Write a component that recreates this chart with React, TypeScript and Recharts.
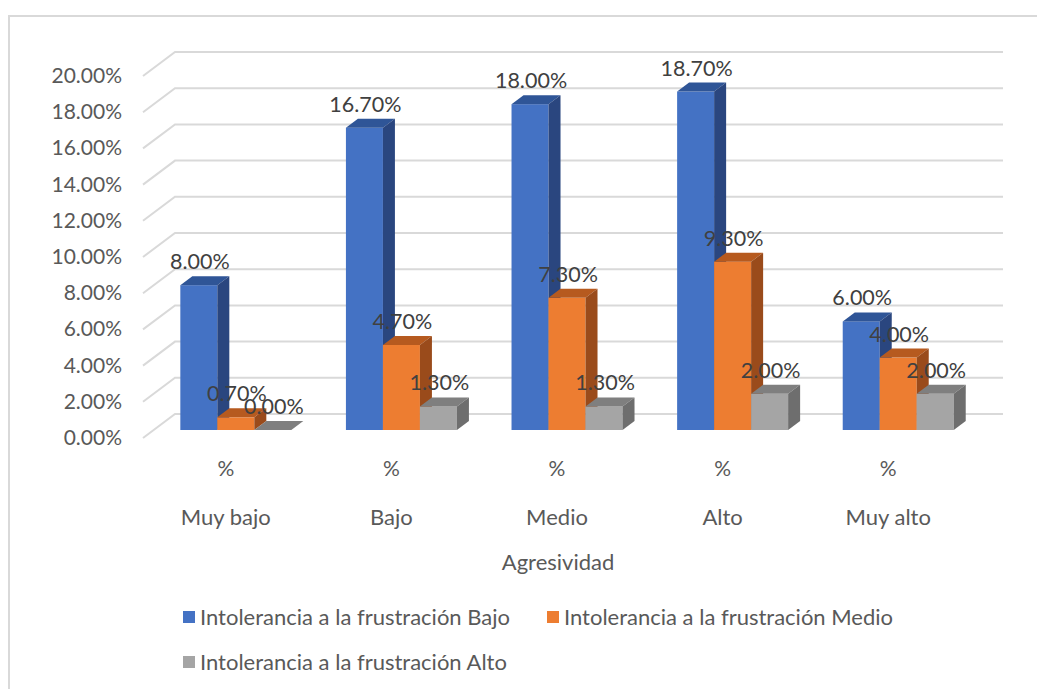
import React from "react";
import {
  BarChart,
  Bar,
  XAxis,
  YAxis,
  CartesianGrid,
  Legend,
  LabelList,
} from "recharts";

const categories = ["Muy bajo", "Bajo", "Medio", "Alto", "Muy alto"];
const unitLabel = "%";
const serieBajo = [8.0, 16.7, 18.0, 18.7, 6.0];
const serieMedio = [0.7, 4.7, 7.3, 9.3, 4.0];
const serieAlto = [0.0, 1.3, 1.3, 2.0, 2.0];
const yTicks = [0, 2, 4, 6, 8, 10, 12, 14, 16, 18, 20];
const seriesNames = [
  "Intolerancia a la frustración Bajo",
  "Intolerancia a la frustración Medio",
  "Intolerancia a la frustración Alto",
];

const data = categories.map((c, i) => ({
  cat: c,
  bajo: serieBajo[i],
  medio: serieMedio[i],
  alto: serieAlto[i],
}));

const FONT = "Lato, 'Open Sans', sans-serif";
const TXT = "#595959";

// colores: frente, tapa, lado
const palette = {
  bajo: ["#4472C4", "#2F5597", "#2A467F"],
  medio: ["#ED7D31", "#B65A1F", "#9A4B1B"],
  alto: ["#A5A5A5", "#7F7F7F", "#6E6E6E"],
};

const DX = 12;
const DY = 9;

const make3D = (cols: string[]) => (props: any) => {
  const { x, y, width, height } = props;
  if (x == null || y == null) return <g />;
  const w = width;
  const h = Math.max(height, 0);
  return (
    <g>
      <rect x={x} y={y} width={w} height={h} fill={cols[0]} />
      <polygon
        points={`${x},${y} ${x + DX},${y - DY} ${x + w + DX},${y - DY} ${x + w},${y}`}
        fill={cols[1]}
      />
      <polygon
        points={`${x + w},${y} ${x + w + DX},${y - DY} ${x + w + DX},${y + h - DY} ${x + w},${y + h}`}
        fill={cols[2]}
      />
    </g>
  );
};

const ValueLabel = (props: any) => {
  const { x, y, width, value } = props;
  return (
    <text
      x={x + width / 2 + 1}
      y={y - 24}
      textAnchor="middle"
      dominantBaseline="central"
      fill="#404040"
      fontSize={21.5}
      fontFamily={FONT}
    >
      {`${Number(value).toFixed(2)}%`}
    </text>
  );
};

const YTick = (props: any) => {
  const { x, y, payload } = props;
  return (
    <text
      x={x - 31}
      y={y + 6.5}
      textAnchor="end"
      dominantBaseline="central"
      fill={TXT}
      fontSize={21}
      fontFamily={FONT}
    >
      {`${payload.value.toFixed(2)}%`}
    </text>
  );
};

const XTick = (props: any) => {
  const { x, y, payload } = props;
  return (
    <g>
      <text
        x={x - 10}
        y={y + 37}
        textAnchor="middle"
        dominantBaseline="central"
        fill={TXT}
        fontSize={21}
        fontFamily={FONT}
      >
        {unitLabel}
      </text>
      <text
        x={x - 10}
        y={y + 86}
        textAnchor="middle"
        dominantBaseline="central"
        fill={TXT}
        fontSize={22}
        fontFamily={FONT}
      >
        {payload.value}
      </text>
    </g>
  );
};

const AxisTitle = (props: any) => {
  const { viewBox } = props;
  const vb = viewBox || { x: 145, y: 422, width: 828 };
  return (
    <text
      x={vb.x + vb.width / 2 - 9}
      y={vb.y + 131}
      textAnchor="middle"
      dominantBaseline="central"
      fill={TXT}
      fontSize={22}
      fontFamily={FONT}
    >
      Agresividad
    </text>
  );
};

const gridLine = (props: any) => {
  const y = props.y1;
  return (
    <path
      key={props.key ?? `g-${props.index}`}
      d={`M135,${y + 8} L167,${y - 16} L995,${y - 16}`}
      stroke="#D9D9D9"
      strokeWidth={2}
      fill="none"
    />
  );
};

const LegendBox = () => {
  const cols = [palette.bajo[0], palette.medio[0], palette.alto[0]];
  return (
    <div style={{ width: 740, display: "flex", flexWrap: "wrap" }}>
      {seriesNames.map((n, i) => (
        <div
          key={n}
          style={{
            width: 364,
            height: 45,
            display: "flex",
            alignItems: "center",
            fontFamily: FONT,
            fontSize: 22,
            color: TXT,
            whiteSpace: "nowrap",
          }}
        >
          <span
            style={{
              width: 12,
              height: 12,
              background: cols[i],
              marginRight: 5,
              display: "inline-block",
            }}
          />
          {n}
        </div>
      ))}
    </div>
  );
};

export default function App() {
  return (
    <div style={{ position: "relative", width: 1037, height: 681, overflow: "hidden" }}>
      <div
        style={{
          position: "absolute",
          left: 0,
          top: 7,
          width: 1100,
          height: 700,
          borderTop: "2px solid #D9D9D9",
          borderLeft: "2px solid #D9D9D9",
        }}
      />
      <div style={{ position: "absolute", left: 0, top: 0 }}>
        <BarChart
          width={1030}
          height={670}
          data={data}
          margin={{ top: 60, right: 57, bottom: 0, left: 0 }}
          barCategoryGap="16.5%"
          barGap={0}
        >
          <CartesianGrid vertical={false} horizontal={gridLine} />
          <YAxis
            domain={[0, 20]}
            ticks={yTicks}
            width={145}
            tickSize={0}
            tickMargin={0}
            axisLine={false}
            tickLine={false}
            tick={<YTick />}
            interval={0}
          />
          <XAxis
            dataKey="cat"
            height={248}
            tickSize={0}
            tickMargin={0}
            axisLine={false}
            tickLine={false}
            tick={<XTick />}
            interval={0}
            label={<AxisTitle />}
          />
          <Legend
            layout="vertical"
            verticalAlign="middle"
            align="center"
            content={<LegendBox />}
            wrapperStyle={{ position: "absolute", left: 175, top: 586, width: 740 }}
          />
          <Bar
            dataKey="bajo"
            name={seriesNames[0]}
            fill={palette.bajo[0]}
            shape={make3D(palette.bajo)}
            isAnimationActive={false}
          >
            <LabelList dataKey="bajo" content={<ValueLabel />} />
          </Bar>
          <Bar
            dataKey="medio"
            name={seriesNames[1]}
            fill={palette.medio[0]}
            shape={make3D(palette.medio)}
            isAnimationActive={false}
          >
            <LabelList dataKey="medio" content={<ValueLabel />} />
          </Bar>
          <Bar
            dataKey="alto"
            name={seriesNames[2]}
            fill={palette.alto[0]}
            shape={make3D(palette.alto)}
            isAnimationActive={false}
          >
            <LabelList dataKey="alto" content={<ValueLabel />} />
          </Bar>
        </BarChart>
      </div>
    </div>
  );
}
